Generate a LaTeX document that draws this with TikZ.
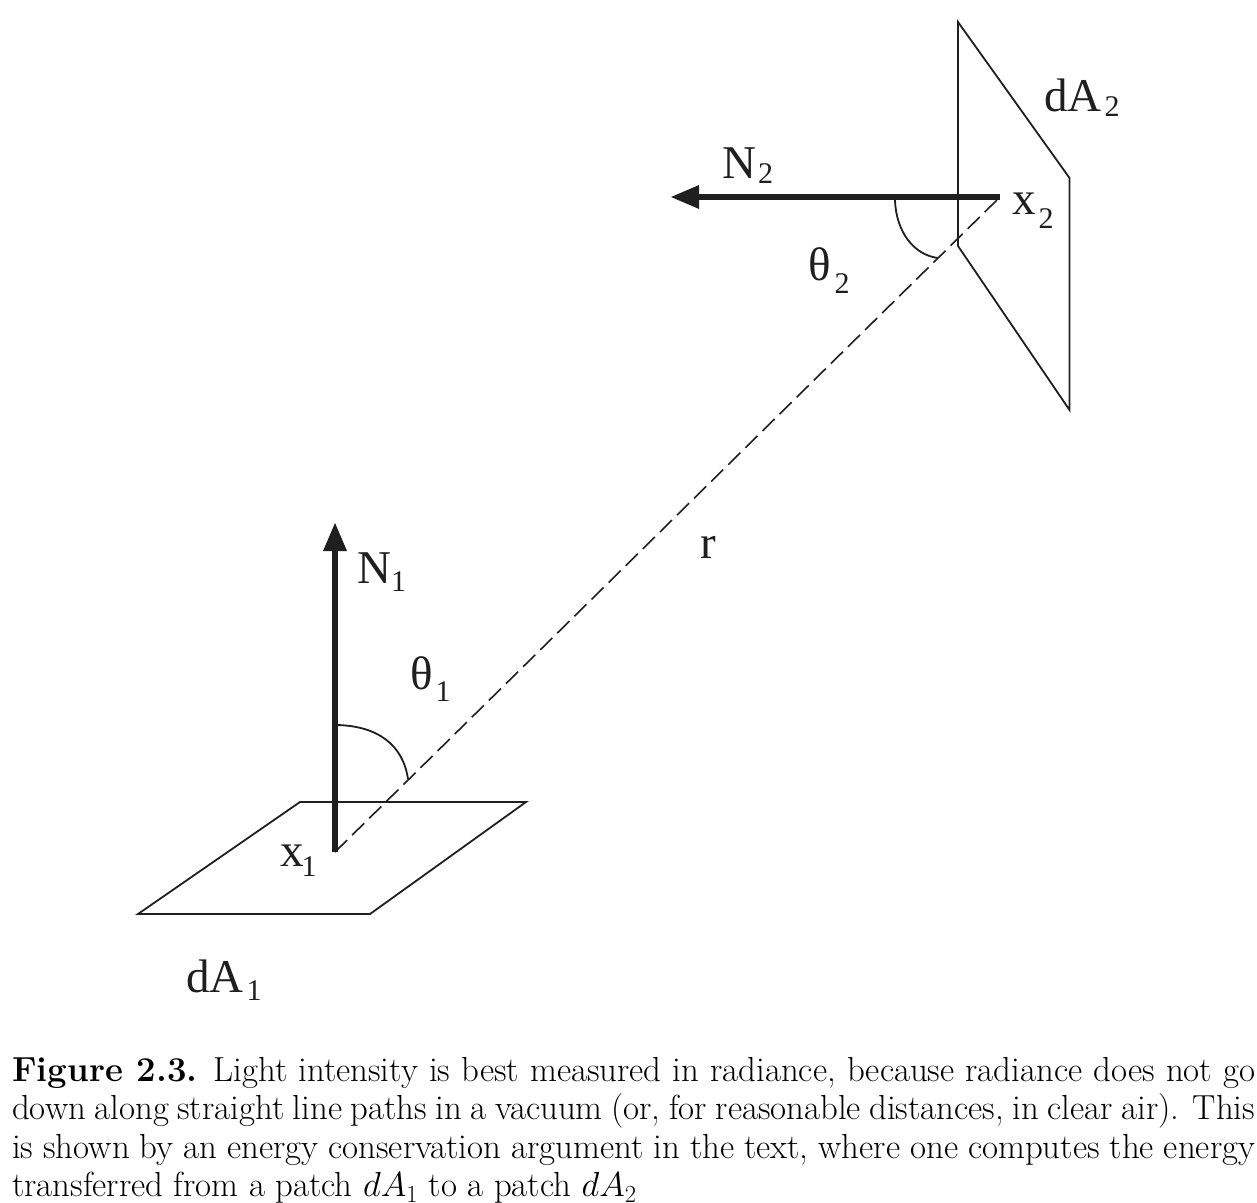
\RequirePackage{fix-cm}
\documentclass[tikz,border=0pt]{standalone}
\usepackage{fontspec}
\usepackage{amsmath}
\newfontfamily\lab{Liberation Serif}
\DeclareMathSizes{34.8}{34.8}{24.5}{18}
\tikzset{
  thin line/.style={draw=black!88, line width=1.8pt},
  thick arrow/.style={draw=black!88, line width=6pt},
  dash line/.style={draw=black!88, line width=1.6pt, dash pattern=on 17pt off 7pt},
  lbl/.style={inner sep=0pt, anchor=base west, font=\lab\fontsize{47}{47}\selectfont, text=black!88},
  captext/.style={inner sep=0pt, anchor=north west, text width=1243pt, align=justify, font=\fontsize{34.8}{38.5}\selectfont}
}
\newcommand{\subl}[3]{\kern#1pt\raisebox{-#2pt}{\fontsize{30}{30}\selectfont #3}}
\begin{document}
\begin{tikzpicture}[x=1pt,y=-1pt]
\useasboundingbox (0,0) rectangle (1257,1202);
% patches
\coordinate (a1) at (300,802); \coordinate (a2) at (526,802);
\coordinate (a3) at (370,914); \coordinate (a4) at (138,914);
\draw[thin line, line join=miter] (a1) -- (a2) -- (a3) -- (a4) -- cycle;
\coordinate (b1) at (958,22); \coordinate (b2) at (1069.5,178);
\coordinate (b3) at (1069.5,410); \coordinate (b4) at (958,246);
\draw[thin line] (b1) -- (b2) -- (b3) -- (b4) -- cycle;
% points
\coordinate (x1) at (335,852); \coordinate (x2) at (1000,197);
\coordinate (n1) at (335,523); \coordinate (n2) at (671,197);
\coordinate (n1s) at (335,550); \coordinate (n2s) at (698,197);
% dashed ray
\draw[dash line] (x1) -- (x2);
% normals
\draw[thick arrow] (x1) -- (n1s);
\fill[black!88] (n1) -- (347,551) -- (323,551) -- cycle;
\draw[thick arrow] (x2) -- (n2s);
\fill[black!88] (n2) -- (699,185) -- (699,209) -- cycle;
% angle arcs
\coordinate (t1a) at (337,725); \coordinate (t1b) at (408,779);
\draw[thin line] (t1a) .. controls (378,726) and (403,745) .. (t1b);
\coordinate (t2a) at (895,200); \coordinate (t2b) at (938,258);
\draw[thin line] (t2a) .. controls (896,232) and (914,255) .. (t2b);
% labels
\node[lbl] (ldA2) at (1044,111) {dA\subl{3}{5}{2}};
\node[lbl] (lN2) at (722,178) {N\subl{2}{5}{2}};
\node[lbl] (lx2) at (1012,214) {x\subl{3}{14}{2}};
\node[lbl] (lt2) at (808,280) {θ\subl{4}{13}{2}};
\node[lbl] (lr) at (700,558) {r};
\node[lbl] (lN1) at (357,583) {N\subl{0}{8}{1}};
\node[lbl] (lt1) at (410,689) {θ\subl{3}{12}{1}};
\node[lbl] (lx1) at (280,866) {x\subl{-2}{10}{1}};
\node[lbl] (ldA1) at (186,992) {dA\subl{3}{8}{1}};
\node[captext] (caption) at (12,1057) {\textbf{Figure 2.3.} Light intensity is best measured in radiance, because radiance does not go\linebreak
down along straight line paths in a vacuum (or, for reasonable distances, in clear air). This\linebreak
is shown by an energy conservation argument in the text, where one computes the energy\linebreak
transferred from a patch $dA_1$ to a patch $dA_2$};
\end{tikzpicture}
\end{document}
